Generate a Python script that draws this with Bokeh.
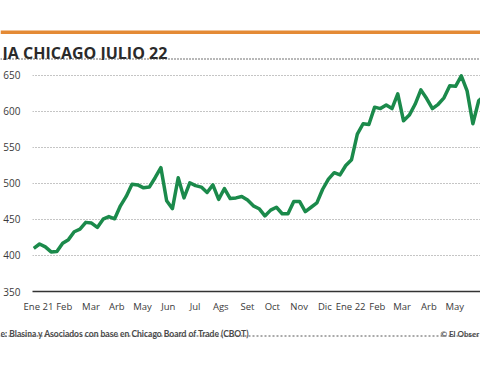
from bokeh.plotting import figure
from bokeh.layouts import column
from bokeh.models import FixedTicker, Range1d
from bokeh.core.properties import value
from bokeh.embed import file_html
from bokeh.resources import INLINE

# Weekly soybean price (Chicago, July 2022 contract), USD/t
prices = [410, 416, 412, 405, 405.5, 417, 422, 433, 436.5, 446,
          445, 439, 450.5, 454, 451, 469, 482, 499, 498, 494,
          495, 508, 522, 476, 465, 508, 480, 501, 497, 495,
          487.5, 498, 478, 493, 479, 480, 482, 477, 469, 465,
          455, 463, 467, 458, 458, 475, 475, 461, 467, 473,
          492, 506, 515, 512, 525, 533, 568.5, 583, 582, 606,
          604, 609, 604, 624.5, 587, 595, 610, 630, 618, 604,
          610, 619, 635.6, 635, 649.5, 628.6, 583, 614.7, 622]
weeks = list(range(len(prices)))

month_labels = ["Ene 21", "Feb", "Mar", "Arb", "May", "Jun", "Jul", "Ags", "Set",
                "Oct", "Nov", "Dic", "Ene 22", "Feb", "Mar", "Arb", "May"]
month_pos = [0.81, 5.27, 9.90, 14.36, 18.82, 23.28, 27.91, 32.37, 37.00,
             41.29, 45.92, 50.38, 54.84, 59.47, 63.76, 68.39, 72.85]
y_ticks = [350, 400, 450, 500, 550, 600, 650]

title_text = "JA CHICAGO JULIO 22"
source_text = "e: Blasina y Asociados con base en Chicago Board of Trade (CBOT)"
credit_text = "© El Obser"

FONT = "Open Sans"
W = 480
HEAD_H, MAIN_H = 60, 263
FOOT_H = 365 - HEAD_H - MAIN_H


def blank(height):
    f = figure(width=W, height=height, output_backend="svg", toolbar_location=None,
               x_range=Range1d(0, W), y_range=Range1d(height, 0),
               x_axis_location=None, y_axis_location=None,
               min_border=0, min_border_left=0, min_border_right=0,
               min_border_top=0, min_border_bottom=0, frame_align=False)
    f.grid.visible = False
    f.outline_line_color = None
    f.background_fill_color = "white"
    f.border_fill_color = "white"
    return f


# ---- header
head = blank(HEAD_H)
head.quad(left=[0], right=[W], top=[30], bottom=[33.5], fill_color="#e48a35",
          line_color=None)
head.text(x=[2], y=[52.7], text=[title_text], text_font=value(FONT),
          text_font_size="16px", text_font_style="bold", text_color="#2a2a2a",
          text_baseline="alphabetic", text_align="left")
head.segment(x0=[0], y0=[58.5], x1=[W], y1=[58.5], line_color="#444444",
             line_dash="1 2", line_width=1.3)

# ---- main chart
p = figure(width=W, height=MAIN_H, output_backend="svg", toolbar_location=None,
           x_range=Range1d(-0.22, 77.32), y_range=Range1d(350, 670.8),
           min_border_left=28, min_border_right=0, min_border_top=0,
           min_border_bottom=32, frame_align=False)
p.outline_line_color = None
p.background_fill_color = "white"
p.border_fill_color = "white"

p.xgrid.visible = False
p.yaxis.ticker = FixedTicker(ticks=y_ticks)
p.ygrid.grid_line_color = "#8a8a8a"
p.ygrid.grid_line_dash = "1 2"
p.ygrid.grid_line_width = 1

p.yaxis.axis_line_color = None
p.yaxis.major_tick_line_color = None
p.yaxis.minor_tick_line_color = None
p.yaxis.major_label_standoff = 6
p.yaxis.major_label_text_font = FONT
p.yaxis.major_label_text_font_size = "10px"
p.yaxis.major_label_text_color = "#3a3a3a"

p.xaxis.ticker = FixedTicker(ticks=month_pos)
p.xaxis.major_label_overrides = {pos: lab for pos, lab in zip(month_pos, month_labels)}
p.xaxis.axis_line_color = "#333333"
p.xaxis.axis_line_width = 1.5
p.xaxis.major_tick_line_color = None
p.xaxis.minor_tick_line_color = None
p.xaxis.major_label_standoff = 2
p.xaxis.major_label_text_font = FONT
p.xaxis.major_label_text_font_size = "9.5px"
p.xaxis.major_label_text_color = "#3a3a3a"

p.line(weeks, prices, line_color="#1b8a4b", line_width=3.5, line_join="round")

# ---- footer (page y 323 .. 365)
foot = blank(FOOT_H)
foot.text(x=[0], y=[10], text=[source_text], text_font=value("Lato"),
          text_font_size="8.5px", text_font_style="bold", text_color="#4a4a4a",
          text_baseline="alphabetic", text_align="left")
foot.text(x=[440], y=[10], text=[credit_text], text_font=value("Lato"),
          text_font_size="8px", text_font_style="bold", text_color="#4a4a4a",
          text_baseline="alphabetic", text_align="left")
foot.segment(x0=[0], y0=[12.5], x1=[W], y1=[12.5], line_color="#555555",
             line_dash="2 2", line_width=1)

layout = column(head, p, foot, spacing=0)

html = file_html(layout, INLINE)
html = html.replace("</head>", "<style>html,body{margin:0;padding:0;overflow:hidden;}</style></head>", 1)
open("out.html", "w").write(html)
